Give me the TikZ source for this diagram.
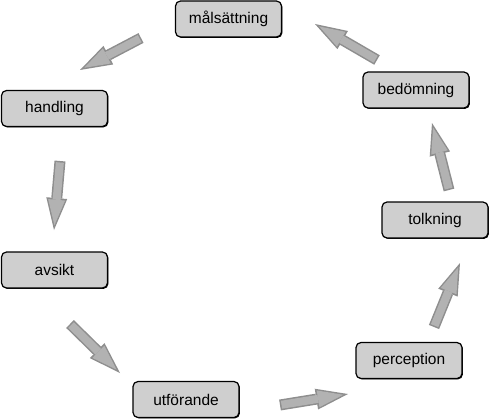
\documentclass[tikz,border=0pt]{standalone}
\usepackage{fontspec}
\setmainfont{Liberation Sans}
\usetikzlibrary{arrows.meta,shadows}
\definecolor{boxfill}{HTML}{CFCFCF}
\definecolor{arrfill}{HTML}{B2B2B2}
\definecolor{arredge}{HTML}{8E8E8E}
\tikzset{
  phase/.style = {rectangle, rounded corners=5pt, draw=black, line width=1.2pt, fill=boxfill,
                  minimum width=106pt, minimum height=36pt, inner sep=2pt,
                  font=\fontsize{15.5}{18}\selectfont,
                  drop shadow={shadow xshift=0.9pt, shadow yshift=-0.9pt, opacity=1, fill=black}},
  cycleflow/.style = {draw=arrfill, line width=8pt, shorten <=1.5pt, shorten >=4.8pt,
                  -{Triangle[length=25.5pt, width=17pt, line width=0pt]},
                  preaction={draw=arredge, line width=11pt, shorten <=0pt, shorten >=0pt,
                  -{Triangle[length=32pt, width=21pt, line width=0pt]}}},
}
\begin{document}
\begin{tikzpicture}[x=1pt, y=-1pt]
  \useasboundingbox (0,0) rectangle (490,420);

  % the seven phases, clockwise from the top
  \node[phase] (mal)  at (228.5,19)  {målsättning};
  \node[phase] (hand) at (54.5,108.5) {handling};
  \node[phase] (avs)  at (54.5,270)  {avsikt};
  \node[phase] (utf)  at (186,399.5) {utförande};
  \node[phase] (perc) at (409,360.5) {perception};
  \node[phase] (tolk) at (435,220)   {tolkning};
  \node[phase] (bed)  at (416,90)    {bedömning};

  % arrow ends on the ring between the boxes
  \coordinate (mal-out)  at (141,38);  \coordinate (hand-in) at (80,70);
  \coordinate (hand-out) at (60,161);  \coordinate (avs-in)  at (54,230);
  \coordinate (avs-out)  at (70,324);  \coordinate (utf-in)  at (120,373);
  \coordinate (utf-out)  at (280,405); \coordinate (perc-in) at (348,394);
  \coordinate (perc-out) at (434,327); \coordinate (tolk-in) at (460,263);
  \coordinate (tolk-out) at (449,190); \coordinate (bed-in)  at (432,123);
  \coordinate (bed-out)  at (377,60);  \coordinate (mal-in)  at (315,24);

  \draw[cycleflow] (mal-out)--(hand-in);
  \draw[cycleflow] (hand-out)--(avs-in);
  \draw[cycleflow] (avs-out)--(utf-in);
  \draw[cycleflow] (utf-out)--(perc-in);
  \draw[cycleflow] (perc-out)--(tolk-in);
  \draw[cycleflow] (tolk-out)--(bed-in);
  \draw[cycleflow] (bed-out)--(mal-in);
\end{tikzpicture}
\end{document}
